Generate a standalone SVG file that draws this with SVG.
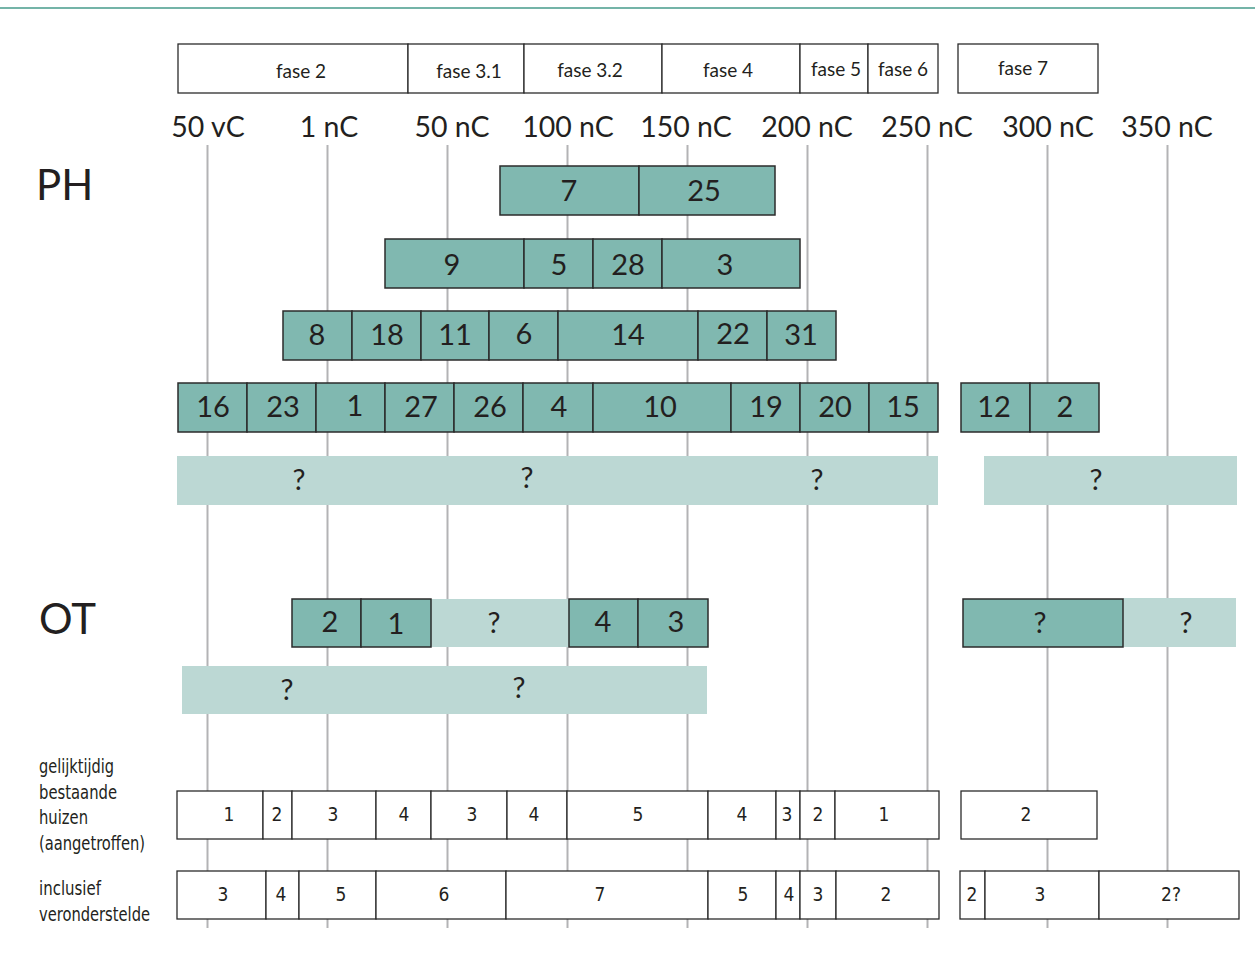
<svg xmlns="http://www.w3.org/2000/svg" width="1255" height="961" viewBox="0 0 1255 961">
<style>
.grid{stroke:#b3b3b5;stroke-width:2}
.hdr{fill:#fff;stroke:#2b2b2b;stroke-width:1.3}
.dk{fill:#80b8b0;stroke:#2b2b2b;stroke-width:1.5}
.lt{fill:#bcd8d4}
.wb{fill:#fff;stroke:#2b2b2b;stroke-width:1.3}
.t{font-family:Lato,"Open Sans",sans-serif;fill:#231f20;text-anchor:middle}
.fs{font-size:19px}
.tick{font-size:28.5px}
.num{font-size:29px}
.big{font-size:42px;text-anchor:start}
.nar{font-family:"Liberation Sans Narrow","DejaVu Sans Condensed","Liberation Sans",sans-serif;font-stretch:condensed;fill:#231f20;font-size:19px}
.nc{text-anchor:middle}
</style>
<line x1="0" y1="8" x2="1255" y2="8" stroke="#74b4a8" stroke-width="2"/>
<g id="grid">
<line class="grid" x1="207.5" y1="145" x2="207.5" y2="928"/>
<line class="grid" x1="327.5" y1="145" x2="327.5" y2="928"/>
<line class="grid" x1="447.5" y1="145" x2="447.5" y2="928"/>
<line class="grid" x1="567.5" y1="145" x2="567.5" y2="928"/>
<line class="grid" x1="687.5" y1="145" x2="687.5" y2="928"/>
<line class="grid" x1="807.5" y1="145" x2="807.5" y2="928"/>
<line class="grid" x1="927.5" y1="145" x2="927.5" y2="928"/>
<line class="grid" x1="1047.5" y1="145" x2="1047.5" y2="928"/>
<line class="grid" x1="1167.5" y1="145" x2="1167.5" y2="928"/>
</g>
<g id="ticks">
<text class="t tick" x="208" y="137">50 vC</text>
<text class="t tick" x="329" y="137">1 nC</text>
<text class="t tick" x="452" y="137">50 nC</text>
<text class="t tick" x="568" y="137">100 nC</text>
<text class="t tick" x="686" y="137">150 nC</text>
<text class="t tick" x="807" y="137">200 nC</text>
<text class="t tick" x="927" y="137">250 nC</text>
<text class="t tick" x="1048" y="137">300 nC</text>
<text class="t tick" x="1167" y="137">350 nC</text>
</g>
<g id="phases">
<rect class="hdr" x="178" y="44" width="230" height="49"/>
<rect class="hdr" x="408" y="44" width="116" height="49"/>
<rect class="hdr" x="524" y="44" width="138" height="49"/>
<rect class="hdr" x="662" y="44" width="138" height="49"/>
<rect class="hdr" x="800" y="44" width="68" height="49"/>
<rect class="hdr" x="868" y="44" width="70" height="49"/>
<rect class="hdr" x="958" y="44" width="140" height="49"/>
<text class="t fs" x="301" y="78">fase 2</text>
<text class="t fs" x="469" y="78">fase 3.1</text>
<text class="t fs" x="590" y="77">fase 3.2</text>
<text class="t fs" x="728" y="77">fase 4</text>
<text class="t fs" x="836" y="76">fase 5</text>
<text class="t fs" x="903" y="76">fase 6</text>
<text class="t fs" x="1023" y="75">fase 7</text>
</g>
<text id="lbl-PH" class="t big" x="36" y="200">PH</text>
<text id="lbl-OT" class="t big" x="39" y="634">OT</text>
<g id="ph-row1">
<rect class="dk" x="500" y="166" width="139" height="49"/>
<rect class="dk" x="639" y="166" width="136" height="49"/>
<text class="t num" x="569" y="201">7</text>
<text class="t num" x="704" y="201">25</text>
</g>
<g id="ph-row2">
<rect class="dk" x="385" y="239" width="139" height="49"/>
<rect class="dk" x="524" y="239" width="69" height="49"/>
<rect class="dk" x="593" y="239" width="69" height="49"/>
<rect class="dk" x="662" y="239" width="138" height="49"/>
<text class="t num" x="452" y="275">9</text>
<text class="t num" x="559" y="275">5</text>
<text class="t num" x="628" y="275">28</text>
<text class="t num" x="725" y="275">3</text>
</g>
<g id="ph-row3">
<rect class="dk" x="283" y="311" width="69" height="49"/>
<rect class="dk" x="352" y="311" width="69" height="49"/>
<rect class="dk" x="421" y="311" width="68" height="49"/>
<rect class="dk" x="489" y="311" width="69" height="49"/>
<rect class="dk" x="558" y="311" width="140" height="49"/>
<rect class="dk" x="698" y="311" width="69" height="49"/>
<rect class="dk" x="767" y="311" width="69" height="49"/>
<text class="t num" x="317" y="345">8</text>
<text class="t num" x="387" y="345">18</text>
<text class="t num" x="455" y="345">11</text>
<text class="t num" x="524" y="344">6</text>
<text class="t num" x="628" y="345">14</text>
<text class="t num" x="733" y="344">22</text>
<text class="t num" x="801" y="345">31</text>
</g>
<g id="ph-row4">
<rect class="dk" x="178" y="383" width="69" height="49"/>
<rect class="dk" x="247" y="383" width="69" height="49"/>
<rect class="dk" x="316" y="383" width="69" height="49"/>
<rect class="dk" x="385" y="383" width="69" height="49"/>
<rect class="dk" x="454" y="383" width="69" height="49"/>
<rect class="dk" x="523" y="383" width="70" height="49"/>
<rect class="dk" x="593" y="383" width="138" height="49"/>
<rect class="dk" x="731" y="383" width="69" height="49"/>
<rect class="dk" x="800" y="383" width="69" height="49"/>
<rect class="dk" x="869" y="383" width="69" height="49"/>
<text class="t num" x="213" y="417">16</text>
<text class="t num" x="283" y="417">23</text>
<text class="t num" x="355" y="416">1</text>
<text class="t num" x="421" y="417">27</text>
<text class="t num" x="490" y="417">26</text>
<text class="t num" x="559" y="417">4</text>
<text class="t num" x="660" y="417">10</text>
<text class="t num" x="766" y="417">19</text>
<text class="t num" x="835" y="417">20</text>
<text class="t num" x="903" y="417">15</text>
</g>
<g id="ph-row4b">
<rect class="dk" x="961" y="383" width="69" height="49"/>
<rect class="dk" x="1030" y="383" width="69" height="49"/>
<text class="t num" x="994" y="417">12</text>
<text class="t num" x="1065" y="417">2</text>
</g>
<g id="ph-unknown">
<rect class="lt" x="177" y="456" width="761" height="49"/>
<rect class="lt" x="984" y="456" width="253" height="49"/>
<text class="t num" x="299" y="490">?</text>
<text class="t num" x="527" y="488">?</text>
<text class="t num" x="817" y="490">?</text>
<text class="t num" x="1096" y="490">?</text>
</g>
<g id="ot-row1">
<rect class="lt" x="431" y="599" width="138" height="48"/>
<rect class="dk" x="292" y="599" width="69" height="48"/>
<rect class="dk" x="361" y="599" width="70" height="48"/>
<rect class="dk" x="569" y="599" width="69" height="48"/>
<rect class="dk" x="638" y="599" width="70" height="48"/>
<text class="t num" x="330" y="632">2</text>
<text class="t num" x="396" y="634">1</text>
<text class="t num" x="494" y="633">?</text>
<text class="t num" x="603" y="632">4</text>
<text class="t num" x="676" y="632">3</text>
</g>
<g id="ot-row1b">
<rect class="lt" x="1123" y="598" width="113" height="49"/>
<rect class="dk" x="963" y="599" width="160" height="48"/>
<text class="t num" x="1040" y="633">?</text>
<text class="t num" x="1186" y="633">?</text>
</g>
<g id="ot-row2">
<rect class="lt" x="182" y="666" width="525" height="48"/>
<text class="t num" x="287" y="700">?</text>
<text class="t num" x="519" y="698">?</text>
</g>
<g id="lbl-houses">
<text class="nar" x="39" y="773" textLength="75" lengthAdjust="spacingAndGlyphs">gelijktijdig</text>
<text class="nar" x="39" y="799" textLength="78" lengthAdjust="spacingAndGlyphs">bestaande</text>
<text class="nar" x="39" y="824" textLength="49" lengthAdjust="spacingAndGlyphs">huizen</text>
<text class="nar" x="39" y="850" textLength="106" lengthAdjust="spacingAndGlyphs">(aangetroffen)</text>
</g>
<g id="lbl-incl">
<text class="nar" x="39" y="895" textLength="62" lengthAdjust="spacingAndGlyphs">inclusief</text>
<text class="nar" x="39" y="921" textLength="111" lengthAdjust="spacingAndGlyphs">veronderstelde</text>
</g>
<g id="houses-row">
<rect class="wb" x="177" y="791" width="86" height="48"/>
<rect class="wb" x="263" y="791" width="29" height="48"/>
<rect class="wb" x="292" y="791" width="84" height="48"/>
<rect class="wb" x="376" y="791" width="55" height="48"/>
<rect class="wb" x="431" y="791" width="76" height="48"/>
<rect class="wb" x="507" y="791" width="60" height="48"/>
<rect class="wb" x="567" y="791" width="141" height="48"/>
<rect class="wb" x="708" y="791" width="68" height="48"/>
<rect class="wb" x="776" y="791" width="24" height="48"/>
<rect class="wb" x="800" y="791" width="35" height="48"/>
<rect class="wb" x="835" y="791" width="104" height="48"/>
<text class="nar nc" x="229" y="821">1</text>
<text class="nar nc" x="277" y="821">2</text>
<text class="nar nc" x="333" y="821">3</text>
<text class="nar nc" x="404" y="821">4</text>
<text class="nar nc" x="472" y="821">3</text>
<text class="nar nc" x="534" y="821">4</text>
<text class="nar nc" x="638" y="821">5</text>
<text class="nar nc" x="742" y="821">4</text>
<text class="nar nc" x="787" y="821">3</text>
<text class="nar nc" x="818" y="821">2</text>
<text class="nar nc" x="884" y="821">1</text>
</g>
<g id="houses-row-b">
<rect class="wb" x="961" y="791" width="136" height="48"/>
<text class="nar nc" x="1026" y="821">2</text>
</g>
<g id="incl-row">
<rect class="wb" x="177" y="871" width="89" height="48"/>
<rect class="wb" x="266" y="871" width="33" height="48"/>
<rect class="wb" x="299" y="871" width="77" height="48"/>
<rect class="wb" x="376" y="871" width="130" height="48"/>
<rect class="wb" x="506" y="871" width="202" height="48"/>
<rect class="wb" x="708" y="871" width="68" height="48"/>
<rect class="wb" x="776" y="871" width="24" height="48"/>
<rect class="wb" x="800" y="871" width="36" height="48"/>
<rect class="wb" x="836" y="871" width="103" height="48"/>
<text class="nar nc" x="223" y="901">3</text>
<text class="nar nc" x="281" y="901">4</text>
<text class="nar nc" x="341" y="901">5</text>
<text class="nar nc" x="444" y="901">6</text>
<text class="nar nc" x="600" y="901">7</text>
<text class="nar nc" x="743" y="901">5</text>
<text class="nar nc" x="789" y="901">4</text>
<text class="nar nc" x="818" y="901">3</text>
<text class="nar nc" x="886" y="901">2</text>
</g>
<g id="incl-row-b">
<rect class="wb" x="960" y="871" width="25" height="48"/>
<rect class="wb" x="985" y="871" width="114" height="48"/>
<rect class="wb" x="1099" y="871" width="140" height="48"/>
<text class="nar nc" x="972" y="901">2</text>
<text class="nar nc" x="1040" y="901">3</text>
<text class="nar nc" x="1171" y="901">2?</text>
</g>
</svg>
